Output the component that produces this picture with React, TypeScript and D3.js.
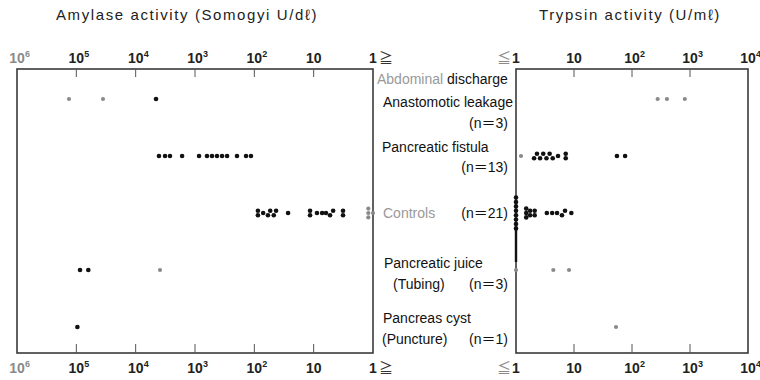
import React from "react";
import * as d3 from "d3";

// rows, top to bottom
const categories = ["Anastomotic leakage", "Pancreatic fistula", "Controls", "Pancreatic juice", "Pancreas cyst"];

// amylase (Somogyi U/dl), one array per row
const amylaseLeakage = [133000, 35500, 4540];
const amylaseFistula = [4050, 3200, 2640, 1650, 855, 628, 517, 426, 350, 288, 196, 138, 114];
const amylaseControls = [87, 87, 71, 59, 54, 47, 43, 27, 11.5, 11.5, 8.8, 7.2, 6.2, 5.3, 4.7, 3.2, 3.2, 1.2, 1.2, 1.2, 1];
const amylaseJuice = [86700, 62800, 3890];
const amylaseCyst = [96000];

// trypsin (U/ml)
const trypsinLeakage = [277, 400, 815];
const trypsinFistula = [1.22, 2.05, 2.3, 2.6, 2.95, 3.35, 3.8, 4.3, 5.3, 7.2, 7.2, 55, 76];
const trypsinControls = [1, 1, 1, 1, 1, 1, 1, 1, 1.5, 1.5, 1.5, 1.75, 1.75, 2.1, 2.1, 3.4, 4.2, 5.1, 6.2, 7.0, 9.0];
const trypsinJuice = [1, 4.4, 8.2];
const trypsinCyst = [53];

const amylaseTicks = [1e6, 1e5, 1e4, 1e3, 1e2, 10, 1];
const trypsinTicks = [1, 10, 1e2, 1e3, 1e4];

// which dots print faint in the scan (indices per row)
const faintAmylase = [[0, 1], [], [17, 18, 19, 20], [2], []];
const faintTrypsin = [[0, 1, 2], [0], [], [0, 1, 2], [0]];

const amylaseRows = [amylaseLeakage, amylaseFistula, amylaseControls, amylaseJuice, amylaseCyst];
const trypsinRows = [trypsinLeakage, trypsinFistula, trypsinControls, trypsinJuice, trypsinCyst];

const FONT = "'Liberation Sans', Arial, 'Noto Sans CJK JP', sans-serif";
const CJK = "'Noto Sans CJK JP', sans-serif";
const INK = "#111";
const FAINT = "#8a8a8a";

const W = 760, H = 380;
const top = 69, bottom = 353;

const xA = d3.scaleLog().domain([1e6, 1]).range([17, 373]);
const xT = d3.scaleLog().domain([1, 1e4]).range([516, 748]);
const y = d3.scalePoint().domain(categories).range([99, 327]);

const R = 2.3;
const STEP = 4.4;   // vertical spacing of stacked dots
const NEAR = 3.4;   // closer than this (px) on x -> stack

// stack equal / near-equal values vertically, then centre each stack
function dodge(xs: number[]) {
    const order = d3.range(xs.length).sort((a, b) => xs[a] - xs[b]);
    const dy = new Array(xs.length).fill(0);
    const placed: [number, number][] = [];
    for (const i of order) {
        for (let k = 0; k < 40; k++) {
            const off = k === 0 ? 0 : (k % 2 ? -1 : 1) * Math.ceil(k / 2) * STEP;
            const hit = placed.some(([px, py]) => Math.abs(px - xs[i]) < NEAR && Math.abs(py - off) < STEP - 0.01);
            if (!hit) { dy[i] = off; placed.push([xs[i], off]); break; }
        }
    }
    // groups of neighbours
    let group: number[] = [];
    const flush = () => {
        if (group.length > 1) {
            const ext = d3.extent(group, g => dy[g]) as [number, number];
            const mid = (ext[0] + ext[1]) / 2;
            group.forEach(g => dy[g] -= mid);
        }
        group = [];
    };
    order.forEach((i, n) => {
        if (n > 0 && xs[i] - xs[order[n - 1]] >= NEAR) flush();
        group.push(i);
    });
    flush();
    return dy;
}

function TickLabel({ x, yy, v, color }: { x: number, yy: number, v: number, color: string }) {
    const e = Math.round(Math.log10(v));
    const base = e === 0 ? "1" : "10";
    return (
        <g fill={color} fontFamily={FONT} fontWeight="bold">
            <text x={x} y={yy} textAnchor="middle" fontSize={14}>{base}</text>
            {e > 1 && <text x={x + 8} y={yy - 6} fontSize={9}>{e}</text>}
        </g>
    );
}

function Panel({ x, ticks, rows, faint, side }: {
    x: d3.ScaleLogarithmic<number, number>, ticks: number[], rows: number[][], faint: number[][], side: "left" | "right"
}) {
    const [x0, x1] = x.range();
    const inner = ticks.filter(t => x(t) > x0 + 1 && x(t) < x1 - 1);
    return (
        <g>
            <rect x={x0} y={top} width={x1 - x0} height={bottom - top} fill="none" stroke="#3a3a3a" strokeWidth={1.6} />
            {inner.map(t => (
                <g key={t}>
                    <line x1={x(t)} x2={x(t)} y1={top} y2={top + 8} stroke="#555" strokeWidth={1} />
                    <line x1={x(t)} x2={x(t)} y1={bottom} y2={bottom - 9} stroke="#555" strokeWidth={1} />
                </g>
            ))}
            {ticks.map(t => {
                const c = t === 1e6 ? FAINT : "#222";
                return (
                    <g key={"l" + t}>
                        <TickLabel x={x(t)} yy={63} v={t} color={c} />
                        <TickLabel x={x(t)} yy={373} v={t} color={c} />
                        {t === 1 && side === "left" && [63, 373].map(yy => (
                            <text key={yy} x={x(t) + 6} y={yy} fontSize={14} fontFamily={CJK} fill="#333">≧</text>
                        ))}
                        {t === 1 && side === "right" && [63, 373].map(yy => (
                            <text key={yy} x={x(t) - 5} y={yy} fontSize={14} fontFamily={CJK} fill={FAINT} textAnchor="end">≦</text>
                        ))}
                    </g>
                );
            })}
            {rows.map((vals, ri) => {
                const xs = vals.map(v => x(v));
                const dy = dodge(xs);
                const cy = y(categories[ri])!;
                return (
                    <g key={ri}>
                        {vals.map((v, i) => {
                            const f = faint[ri].includes(i);
                            return <circle key={i} cx={xs[i]} cy={cy + dy[i]} r={f ? 2.1 : R} fill={f ? FAINT : INK} />;
                        })}
                    </g>
                );
            })}
        </g>
    );
}

export default function App() {
    const lbl = { fontFamily: FONT, fontSize: 14, fill: INK } as const;
    const cy = (i: number) => y(categories[i])!;
    return (
        <svg width={W} height={H} style={{ position: "absolute", left: 0, top: 0, background: "#fff" }}>
            <rect width={W} height={H} fill="#fff" />
            <text x={187} y={20} textAnchor="middle" fontFamily={FONT} fontSize={15} letterSpacing={1.6} fill="#222">
                Amylase activity  (Somogyi U/dℓ)
            </text>
            <text x={630} y={20} textAnchor="middle" fontFamily={FONT} fontSize={15} letterSpacing={1.6} fill="#222">
                Trypsin activity  (U/mℓ)
            </text>

            <Panel x={xA} ticks={amylaseTicks} rows={amylaseRows} faint={faintAmylase} side="left" />
            <Panel x={xT} ticks={trypsinTicks} rows={trypsinRows} faint={faintTrypsin} side="right" />
            {/* heavy stroke on the ≤1 edge between controls and juice */}
            <line x1={xT(1)} x2={xT(1)} y1={cy(2) + 16} y2={cy(3) - 8} stroke={INK} strokeWidth={2.4} />

            <g {...lbl}>
                <text x={377} y={84}><tspan fill="#999">Abdominal</tspan> discharge</text>
                <text x={383} y={107}>Anastomotic leakage</text>
                <text x={508} y={128} textAnchor="end">(n＝3)</text>
                <text x={382} y={152}>Pancreatic fistula</text>
                <text x={508} y={172} textAnchor="end">(n＝13)</text>
                <text x={383} y={218} fill="#999">Controls</text>
                <text x={508} y={218} textAnchor="end">(n＝21)</text>
                <text x={384} y={268}>Pancreatic juice</text>
                <text x={393} y={289}>(Tubing)</text>
                <text x={508} y={289} textAnchor="end">(n＝3)</text>
                <text x={383} y={323}>Pancreas cyst</text>
                <text x={382} y={344}>(Puncture)</text>
                <text x={508} y={344} textAnchor="end">(n＝1)</text>
            </g>
        </svg>
    );
}
